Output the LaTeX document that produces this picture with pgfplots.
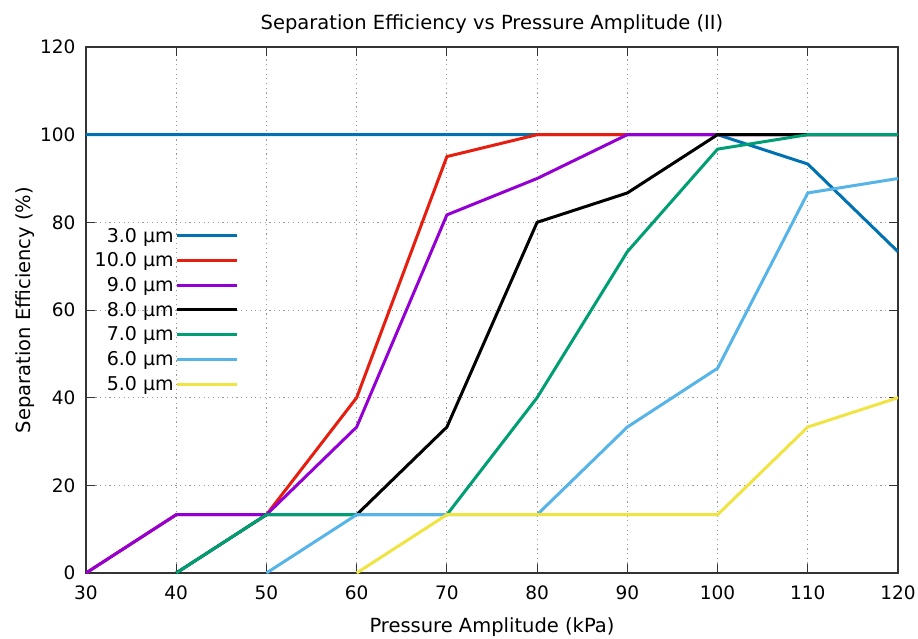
\documentclass[border=0pt]{standalone}
\usepackage{fontspec}
\setmainfont{DejaVu Sans}
\usepackage{pgfplots}
\pgfplotsset{compat=1.18}
\definecolor{c3}{HTML}{0072B2}
\definecolor{c10}{HTML}{E51E10}
\definecolor{c9}{HTML}{9400D3}
\definecolor{c7}{HTML}{009E73}
\definecolor{c6}{HTML}{56B4E9}
\definecolor{c5}{HTML}{F0E442}
\begin{document}
\begin{tikzpicture}
\useasboundingbox (-86pt,-65pt) rectangle (832pt,573pt);
\begin{axis}[
  scale only axis, width=812pt, height=526pt,
  xmin=30, xmax=120, ymin=0, ymax=120,
  xtick={30,40,...,120}, ytick={0,20,...,120},
  /pgf/number format/assume math mode=true,
  tick label style={font=\fontsize{18.5}{20}\selectfont},
  xticklabel style={yshift=-9pt},
  yticklabel style={xshift=-7pt},
  label style={font=\fontsize{19.5}{22}\selectfont},
  title style={font=\fontsize{19.5}{22}\selectfont, yshift=4pt},
  title={Separation Efficiency vs Pressure Amplitude (II)},
  xlabel={Pressure Amplitude (kPa)},
  ylabel={Separation Efficiency (\%)},
  xlabel style={yshift=-11pt},
  ylabel style={yshift=-1pt},
  axis line style={line width=1.2pt, black!80},
  tick style={line width=1pt, black!80},
  tick align=inside, major tick length=9pt,
  grid=major, major grid style={dash pattern=on 1.2pt off 3.5pt, gray!80, line width=1pt},
  legend cell align=right,
  legend plot pos=right,
  legend style={at={(rel axis cs:0.008,0.66)}, anchor=north west, draw=none, fill=none,
    font=\fontsize{19}{22}\selectfont, row sep=5.1pt, inner sep=0pt,
    nodes={inner sep=2pt}},
  legend image code/.code={\draw[#1, line width=3pt] (-1pt,0pt) -- (59pt,0pt);},
  every axis plot/.append style={line width=3pt},
]
\addplot[c3] coordinates {(30,100)(40,100)(50,100)(60,100)(70,100)(80,100)(90,100)(100,100)(110,93.3)(120,73.3)};
\addlegendentry{3.0 µm}
\addplot[c10] coordinates {(30,0)(40,13.3)(50,13.3)(60,40)(70,95)(80,100)(90,100)(100,100)(110,100)(120,100)};
\addlegendentry{10.0 µm}
\addplot[c9] coordinates {(30,0)(40,13.3)(50,13.3)(60,33.3)(70,81.7)(80,90)(90,100)(100,100)(110,100)(120,100)};
\addlegendentry{9.0 µm}
\addplot[black] coordinates {(40,0)(50,13.3)(60,13.3)(70,33.3)(80,80)(90,86.7)(100,100)(110,100)(120,100)};
\addlegendentry{8.0 µm}
\addplot[c7] coordinates {(40,0)(50,13.3)(60,13.3)(70,13.3)(80,40)(90,73.3)(100,96.7)(110,100)(120,100)};
\addlegendentry{7.0 µm}
\addplot[c6] coordinates {(50,0)(60,13.3)(70,13.3)(80,13.3)(90,33.3)(100,46.7)(110,86.7)(120,90)};
\addlegendentry{6.0 µm}
\addplot[c5] coordinates {(60,0)(70,13.3)(80,13.3)(90,13.3)(100,13.3)(110,33.3)(120,40)};
\addlegendentry{5.0 µm}
\end{axis}
\end{tikzpicture}
\end{document}
